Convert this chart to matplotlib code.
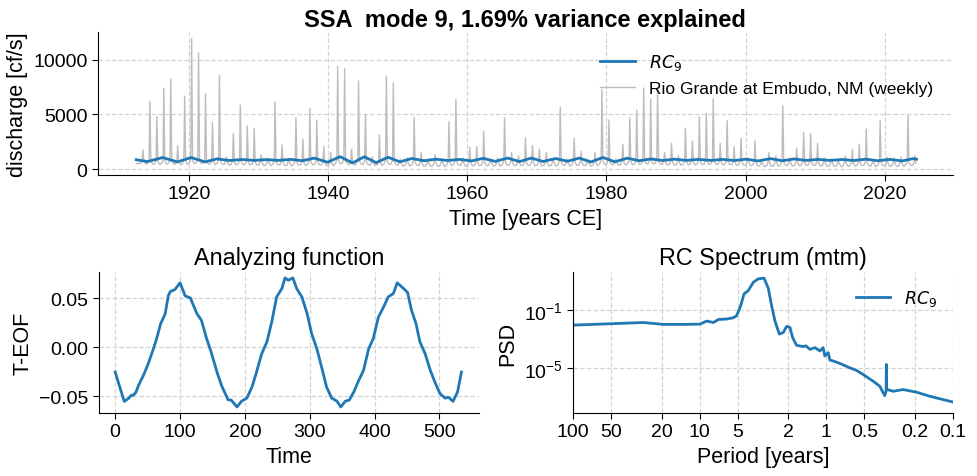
import numpy as np
import matplotlib
matplotlib.use("Agg")
import matplotlib.pyplot as plt

plt.rcParams['font.family'] = ['Liberation Sans', 'DejaVu Sans']
plt.rcParams['mathtext.fontset'] = 'dejavusans'

# --- weekly discharge, Rio Grande at Embudo (yearly peak / low, cf/s)
flow_years = list(range(1913, 2025))
peak_cfs = [1750, 6200, 4800, 7400, 8270, 2150, 6660, 11970, 10640, 6900,
            4270, 8570, 1100, 3270, 5850, 3940, 3730, 1300, 1000, 6150,
            2210, 800, 4700, 2750, 5550, 4480, 2060, 1500, 9390, 9180,
            1820, 8060, 5000, 1100, 3120, 8520, 7900, 900, 1000, 4700,
            1550, 900, 1300, 800, 4330, 6360, 1000, 1970, 2060, 3430,
            900, 1000, 4700, 1500, 1200, 2880, 2150, 1800, 1500, 900,
            5660, 900, 2820, 1600, 700, 1500, 7270, 4480, 900, 2270,
            4700, 5400, 7420, 6390, 7420, 1500, 2360, 1200, 3730, 2570,
            4790, 5090, 6450, 2360, 4450, 2050, 2820, 1000, 2570, 600,
            1500, 1200, 5790, 1000, 1900, 3360, 3270, 2360, 1000, 900,
            700, 1200, 1800, 2270, 3660, 700, 4430, 1100, 1000, 1100,
            4940, 1200]
low_cfs = [520, 500, 480, 520, 540, 450, 500, 560, 580, 520,
           470, 520, 420, 430, 470, 440, 430, 380, 360, 450,
           380, 330, 420, 380, 450, 430, 380, 350, 520, 560,
           400, 500, 440, 360, 380, 480, 470, 330, 330, 400,
           320, 300, 300, 290, 380, 420, 320, 350, 350, 380,
           330, 320, 400, 360, 340, 380, 360, 350, 340, 320,
           420, 330, 380, 360, 320, 360, 480, 460, 400, 420,
           460, 480, 520, 520, 540, 440, 420, 400, 440, 430,
           470, 470, 500, 430, 460, 400, 420, 350, 380, 260,
           300, 300, 420, 320, 360, 380, 380, 360, 300, 300,
           260, 300, 330, 350, 380, 270, 380, 300, 290, 300,
           400, 330]

# --- RC9 extrema (decimal year, cf/s)
rc_time = [1912.4, 1914.0, 1916.2, 1918.3, 1920.3, 1922.3, 1924.0, 1925.8,
           1927.6, 1929.4, 1931.1, 1932.8, 1934.6, 1936.3, 1938.0, 1939.9,
           1941.7, 1943.5, 1945.2, 1946.9, 1948.6, 1950.3, 1952.0, 1953.8,
           1955.5, 1957.2, 1958.9, 1960.6, 1962.3, 1964.0, 1965.8, 1967.5,
           1969.2, 1970.9, 1972.7, 1974.4, 1976.1, 1977.8, 1979.5, 1981.2,
           1983.0, 1984.7, 1986.4, 1988.1, 1989.8, 1991.5, 1993.2, 1995.0,
           1996.7, 1998.4, 2000.1, 2001.8, 2003.6, 2005.3, 2007.0, 2008.7,
           2010.4, 2012.1, 2013.9, 2015.6, 2017.3, 2019.0, 2020.8, 2022.5,
           2024.1, 2024.6]
rc_cfs = [850, 680, 1050, 650, 1050, 650, 930, 780,
          870, 790, 860, 790, 880, 760, 1000, 620,
          1130, 560, 1120, 580, 1080, 660, 960, 760,
          900, 780, 880, 740, 980, 700, 1000, 680,
          1000, 690, 960, 710, 1000, 650, 1060, 660,
          990, 760, 920, 780, 900, 790, 880, 790,
          880, 780, 900, 740, 950, 760, 920, 790,
          880, 790, 870, 780, 900, 760, 880, 740,
          950, 900]

# --- T-EOF (analyzing function)
eof_t = [0, 14, 21, 25, 28, 32, 36, 44, 51, 59, 64, 70, 77, 82, 85, 92, 100,
         108, 116, 126, 133, 141, 148, 157, 164, 174, 179, 188, 195, 203, 211,
         218, 226, 234, 242, 249, 257, 262, 267, 274, 280, 288, 296, 303, 311,
         319, 326, 334, 342, 348, 355, 361, 368, 375, 383, 391, 398, 406, 414,
         421, 429, 435, 445, 451, 457, 464, 470, 478, 486, 493, 501, 509, 514,
         521, 528, 534]
eof_val = [-0.0253, -0.0553, -0.052, -0.049, -0.049, -0.046, -0.039, -0.028,
           -0.0167, -0.0014, 0.009, 0.024, 0.034, 0.053, 0.057, 0.059, 0.066,
           0.0526, 0.0505, 0.0345, 0.0276, 0.0089, -0.0048, -0.0253, -0.039,
           -0.0536, -0.054, -0.061, -0.055, -0.052, -0.0406, -0.0253, -0.0065,
           0.0055, 0.0276, 0.0515, 0.060, 0.071, 0.0686, 0.071, 0.060, 0.0515,
           0.0345, 0.014, -0.0014, -0.0218, -0.0406, -0.052, -0.055, -0.061,
           -0.055, -0.054, -0.0457, -0.0348, -0.0235, -0.0014, 0.0089, 0.031,
           0.0413, 0.0515, 0.055, 0.066, 0.060, 0.056, 0.0379, 0.0242, 0.0055,
           -0.0065, -0.0235, -0.0355, -0.0474, -0.052, -0.051, -0.0553, -0.0457,
           -0.0253]

# --- RC spectrum (mtm): log10 period [years], log10 PSD
psd_logperiod = [2.0, 1.443, 1.286, 1.128, 0.997, 0.944, 0.891, 0.852, 0.786,
                 0.734, 0.708, 0.676, 0.650, 0.616, 0.576, 0.537, 0.492, 0.458,
                 0.432, 0.406, 0.371, 0.340, 0.314, 0.287, 0.266, 0.235, 0.182,
                 0.161, 0.130, 0.090, 0.051, 0.025, 0.012, -0.015, -0.028,
                 -0.054, -0.107, -0.185, -0.238, -0.290, -0.317, -0.369, -0.422,
                 -0.461, -0.472, -0.474, -0.476, -0.482, -0.527, -0.606, -0.711,
                 -0.816, -0.921, -1.0]
psd_log = [-2.04, -1.86, -1.99, -1.99, -1.97, -1.76, -1.86, -1.65, -1.62,
           -1.53, -1.39, -0.70, 0.11, 0.34, 0.92, 1.15, 1.20, 0.50,
           -0.70, -1.74, -2.66, -2.55, -2.13, -2.20, -2.90, -3.43, -3.52,
           -3.47, -3.71, -3.59, -3.82, -3.59, -4.17, -3.94, -4.45,
           -4.51, -4.68, -4.98, -5.16, -5.44, -5.60, -5.90, -6.25,
           -6.90, -6.60, -4.75, -6.50, -6.48, -6.60, -6.48, -6.66,
           -6.94, -7.17, -7.34]

blue = '#1f77b4'
grey_line = '#bdbdbd'
grid_kw = dict(color='#d4d4d4', linestyle='--', linewidth=0.9)
TICK = 14
LABEL = 15.5
SUB = 16.8

# build the grey line vertices: winter low -> snowmelt peak -> summer low
flow_t = [1912.4]
flow_q = [500]
for yr, pk, lo in zip(flow_years, peak_cfs, low_cfs):
    flow_t += [yr + 0.05, yr + 0.25, yr + 0.36, yr + 0.5, yr + 0.75]
    flow_q += [lo, lo + 350, pk, lo + 200, lo - 60]
flow_t = [t for t in flow_t if t <= 2024.6]
flow_q = flow_q[:len(flow_t)]

fig = plt.figure(figsize=(9.78, 4.77), dpi=100)
ax0 = fig.add_axes([0.1002, 0.631, 0.874, 0.300])
ax1 = fig.add_axes([0.1012, 0.132, 0.3885, 0.2956])
ax2 = fig.add_axes([0.5859, 0.132, 0.3885, 0.2956])

for ax in (ax0, ax1, ax2):
    ax.spines['top'].set_visible(False)
    ax.spines['right'].set_visible(False)
    ax.grid(True, **grid_kw)
    ax.set_axisbelow(True)
    ax.tick_params(labelsize=TICK, direction='out', length=4)

# top panel
l_raw, = ax0.plot(flow_t, flow_q, color=grey_line, lw=1.0,
                  label='Rio Grande at Embudo, NM (weekly)')
l_rc, = ax0.plot(rc_time, rc_cfs, color=blue, lw=2.0, label='$RC_{9}$')
ax0.set_xlim(1906.9, 2029.8)
ax0.set_ylim(-550, 12560)
ax0.set_xticks([1920, 1940, 1960, 1980, 2000, 2020])
ax0.set_yticks([0, 5000, 10000])
ax0.set_xlabel('Time [years CE]', fontsize=LABEL)
ax0.set_ylabel('discharge [cf/s]', fontsize=LABEL)
ax0.set_title('SSA  mode 9, 1.69% variance explained', fontsize=17,
              fontweight='bold', pad=4)
ax0.legend(handles=[l_rc, l_raw], loc='upper right', frameon=False,
           fontsize=12.5, bbox_to_anchor=(0.995, 0.97))

# analyzing function
ax1.plot(eof_t, eof_val, color=blue, lw=2.0)
ax1.set_xlim(-25, 561)
ax1.set_ylim(-0.0672, 0.077)
ax1.set_xticks([0, 100, 200, 300, 400, 500])
ax1.set_yticks([-0.05, 0.0, 0.05])
ax1.set_yticklabels(['\u22120.05', '0.00', '0.05'])
ax1.set_xlabel('Time', fontsize=LABEL)
ax1.set_ylabel('T-EOF', fontsize=LABEL)
ax1.set_title('Analyzing function', fontsize=SUB)

# spectrum
periods = [10 ** p for p in psd_logperiod]
psd = [10 ** v for v in psd_log]
ax2.plot(periods, psd, color=blue, lw=2.0, label='$RC_{9}$')
ax2.set_xscale('log')
ax2.set_yscale('log')
ax2.set_xlim(100, 0.1)
ax2.set_ylim(10 ** -8.1, 10 ** 1.62)
xt = [100, 50, 20, 10, 5, 2, 1, 0.5, 0.2, 0.1]
ax2.set_xticks(xt)
ax2.set_xticklabels(['100', '50', '20', '10', '5', '2', '1', '0.5', '0.2', '0.1'])
ax2.xaxis.set_minor_locator(matplotlib.ticker.NullLocator())
ax2.set_yticks([1e-5, 1e-1])
ax2.yaxis.set_minor_locator(matplotlib.ticker.NullLocator())
ax2.set_xlabel('Period [years]', fontsize=LABEL)
ax2.set_ylabel('PSD', fontsize=LABEL)
ax2.set_title('RC Spectrum (mtm)', fontsize=SUB)
ax2.legend(loc='upper right', frameon=False, fontsize=12.5)

fig.savefig('out.png', dpi=100)
